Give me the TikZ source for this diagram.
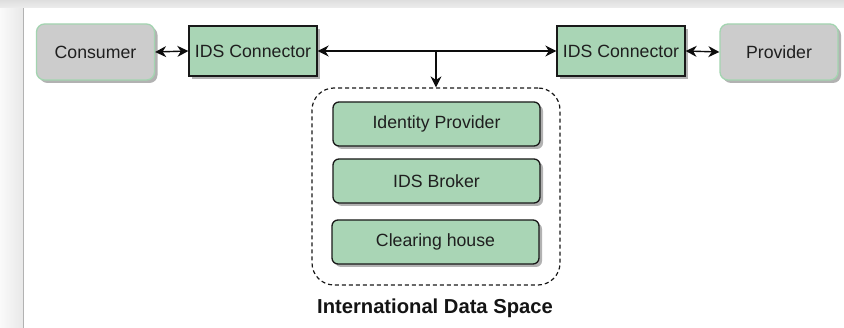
\documentclass[tikz,border=0pt]{standalone}
\usepackage{fontspec}
\setmainfont{Liberation Sans}
\usetikzlibrary{shadows,arrows.meta}
\definecolor{idsgreen}{HTML}{A9D5B5}
\definecolor{idsgray}{HTML}{CCCCCC}
\definecolor{edgegreen}{HTML}{A3D4B0}
\begin{document}
\begin{tikzpicture}[x=1pt,y=-1pt,
  >={Stealth[length=11pt,width=11pt,inset=3.5pt]},
  txt/.style={font=\fontsize{17.7}{20}\selectfont, text=black!88, inner sep=0pt},
  shad/.style={drop shadow={shadow xshift=3pt,shadow yshift=-3pt,fill=black!50,opacity=0.6}},
  party/.style={txt, shad, draw=edgegreen, line width=1.3pt, fill=idsgray, rounded corners=8pt,
    minimum width=118pt, minimum height=56pt},
  connbox/.style={txt, shad, draw=black!90, line width=1.3pt, fill=idsgreen,
    minimum width=128pt, minimum height=50pt},
  svcbox/.style={txt, shad, draw=black!90, line width=1.3pt, fill=idsgreen, rounded corners=6pt,
    minimum width=207pt, minimum height=44pt},
  space/.style={draw=black!90, dash pattern=on 4pt off 3pt, line width=1.2pt,
    rounded corners=22pt, minimum width=248pt, minimum height=197pt, inner sep=0pt},
  conn/.style={line width=1.4pt, draw=black!95}
]
\useasboundingbox (0,0) rectangle (844,328);
% screenshot background
\fill[white] (0,0) rectangle (844,328);
\shade[left color=black!2, right color=black!9] (0,0) rectangle (23,328);
\shade[top color=black!13, bottom color=black!7] (0,0) rectangle (844,8);
\draw[black!30, line width=1pt] (23.5,8) -- (23.5,328);
% nodes
\node[party] (cons) at (95.5,52) {Consumer};
\node[connbox] (lc) at (253,51) {IDS Connector};
\node[connbox] (rc) at (621,51) {IDS Connector};
\node[party] (prov) at (779,52) {Provider};
\node[space] (ids) at (436,186.5) {};
\node[svcbox] (idp) at (436.5,124) {Identity Provider};
\node[svcbox] (brk) at (436.5,181) {IDS Broker};
\node[svcbox] (clh) at (435.5,242) {Clearing house};
\node[font=\bfseries\fontsize{20.2}{23}\selectfont, text=black!92, inner sep=0pt] (lbl) at (435,308) {International Data Space};
% connectors
\draw[conn, <->] (cons.east) -- (lc.west);
\draw[conn, <->] (lc.east) -- (rc.west);
\draw[conn, ->] (lc.east -| ids.north) -- (ids.north);
\draw[conn, <->] (rc.east) -- (prov.west);
\end{tikzpicture}
\end{document}
